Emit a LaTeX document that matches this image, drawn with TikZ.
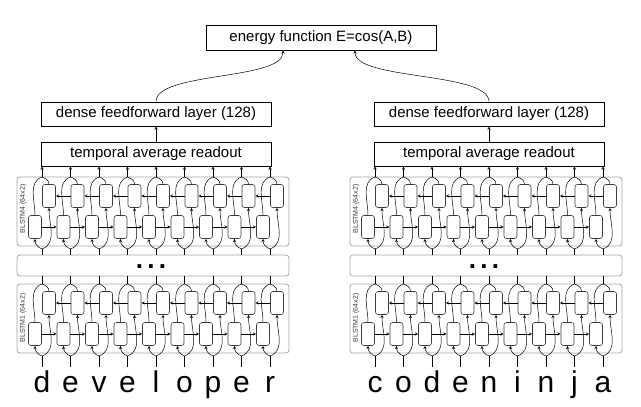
\documentclass[tikz,border=0pt]{standalone}
\usepackage{fontspec}
\setmainfont{Liberation Sans}
\usetikzlibrary{shapes,arrows,positioning}
\definecolor{BlockGray}{RGB}{165,165,165}
\definecolor{CellGray}{RGB}{60,60,60}

\begin{document}
\begin{tikzpicture}[x=1pt, y=1pt, >=stealth,
    layerbox/.style={draw, fill=white, line width=0.7pt, minimum width=230pt, minimum height=24pt, inner sep=0pt, font=\fontsize{15}{18}\selectfont},
    blstmbox/.style={draw=BlockGray, line width=0.8pt, rounded corners=3pt, minimum width=272pt, inner sep=0pt},
    cell/.style={draw=CellGray, fill=white, line width=0.6pt, rounded corners=2.5pt, minimum width=13pt, minimum height=23pt, inner sep=0pt},
    wire/.style={line width=0.5pt},
    letter/.style={font=\fontsize{30}{36}\selectfont, text height=22pt, text depth=6pt, inner xsep=0pt, inner ysep=3pt}]
    \useasboundingbox (0,0) rectangle (641,-407);

    \node[layerbox, minimum height=25pt] (energy) at (321,-37.5) {energy function E=cos(A,B)};

    \foreach \side/\ox/\word in {L/0/{d,e,v,e,l,o,p,e,r}, R/333/{c,o,d,e,n,i,n,j,a}} {
      \node[layerbox] (\side-dense) at (156+\ox,-114) {dense feedforward layer (128)};
      \node[layerbox] (\side-tar) at (156+\ox,-154) {temporal average readout};
      \draw[wire,->] (\side-tar) -- (\side-dense);

      \node[blstmbox, minimum height=69pt] (\side-blk4) at (153+\ox,-211.5) {};
      \node[blstmbox, minimum height=21pt] (\side-mid) at (153+\ox,-265.5) {};
      \node[blstmbox, minimum height=69pt] (\side-blk1) at (153+\ox,-318.5) {};
      \node[rotate=90, text=CellGray, font=\fontsize{7}{8}\selectfont] (\side-lab4) at (23+\ox,-209) {BLSTM4 (64x2)};
      \node[rotate=90, text=CellGray, font=\fontsize{7}{8}\selectfont] (\side-lab1) at (23+\ox,-318) {BLSTM1 (64x2)};
      \node[anchor=base, font=\fontsize{26}{28}\selectfont\bfseries] (\side-dots) at (151+\ox,-268) {.\hspace{4.3pt}.\hspace{4.3pt}.};

      % one column per input character
      \foreach \ch [count=\i] in \word {
        \pgfmathsetmacro\xc{\ox+42+28.5*(\i-1)}
        \node[letter] (\side-in-\i) at (\xc,-384) {\ch};
        \foreach \lay/\T/\B in {4/-177/-246, 1/-284/-353} {
          \node[cell] (\side-f\lay-\i) at (\xc-7,\B+19) {};
          \node[cell] (\side-b\lay-\i) at (\xc+7,\T-19) {};
          \coordinate (\side-top\lay-\i) at (\xc,\T);
          \coordinate (\side-sp\lay-\i) at (\xc,\B-3);
          \draw[wire,->] (\side-sp\lay-\i) to[out=160,in=-90] (\side-f\lay-\i.south);
          \draw[wire,->] (\side-sp\lay-\i) to[out=20,in=-90] (\side-b\lay-\i.south);
          \draw[wire] (\side-f\lay-\i.north) to[out=90,in=200] (\side-top\lay-\i);
          \draw[wire] (\side-b\lay-\i.north) to[out=90,in=-20] (\side-top\lay-\i);
          \ifnum\i>1
            \pgfmathtruncatemacro\j{\i-1}
            \draw[wire,->] (\side-f\lay-\j) -- (\side-f\lay-\i);
            \draw[wire,->] (\side-b\lay-\i) -- (\side-b\lay-\j);
          \fi
        }
        \draw[wire,->] (\side-top4-\i) -- (\side-top4-\i |- \side-tar.south);
        \draw[wire] (\side-top1-\i) -- (\side-top1-\i |- \side-mid.south);
        \draw[wire] (\side-mid.north -| \side-sp4-\i) -- (\side-sp4-\i);
        \draw[wire] (\side-in-\i.north) -- (\side-sp1-\i);
      }
    }

    \draw[wire,->] (L-dense.north) .. controls +(0,30) and +(0,-30) .. ([xshift=-38pt]energy.south);
    \draw[wire,->] (R-dense.north) .. controls +(0,30) and +(0,-30) .. ([xshift=34pt]energy.south);
  \end{tikzpicture}
\end{document}
